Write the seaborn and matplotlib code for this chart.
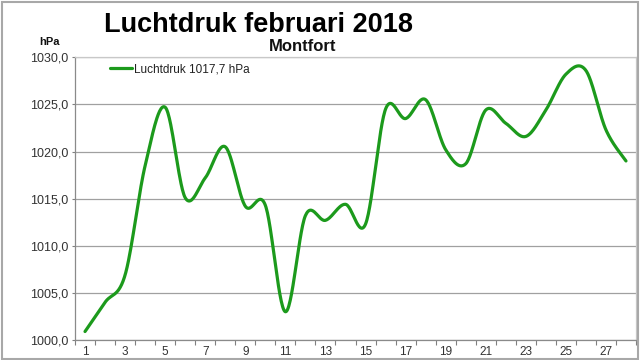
import numpy as np
import pandas as pd
import matplotlib
matplotlib.use("Agg")
import matplotlib.pyplot as plt
from matplotlib.patches import Rectangle
from matplotlib.ticker import FixedLocator, FuncFormatter
import seaborn as sns

# ---- data ----
days = list(range(1, 29))
pressure = [1000.9, 1004.0, 1006.9, 1018.5, 1024.7, 1015.1, 1017.2, 1020.5,
            1014.2, 1014.3, 1003.0, 1013.2, 1012.7, 1014.4, 1012.3, 1024.5,
            1023.5, 1025.5, 1020.2, 1018.7, 1024.4, 1023.0, 1021.6, 1024.4,
            1028.2, 1028.6, 1022.3, 1019.0]
series_label = "Luchtdruk 1017,7 hPa"
title = "Luchtdruk februari 2018"
subtitle = "Montfort"
y_unit = "hPa"
y_ticks = [1000, 1005, 1010, 1015, 1020, 1025, 1030]
x_ticklabels = list(range(1, 28, 2))


def smooth(xs, ys, n=30):
    """Excel-style smoothed line (Catmull-Rom Bezier)."""
    P = np.column_stack([xs, ys]).astype(float)
    ext = np.vstack([P[0], P, P[-1]])
    out = []
    t = np.linspace(0, 1, n)[:, None]
    for i in range(len(P) - 1):
        p0, p1, p2, p3 = ext[i], ext[i + 1], ext[i + 2], ext[i + 3]
        c1 = p1 + (p2 - p0) / 6.0
        c2 = p2 - (p3 - p1) / 6.0
        seg = ((1 - t) ** 3) * p1 + 3 * ((1 - t) ** 2) * t * c1 + 3 * (1 - t) * t ** 2 * c2 + t ** 3 * p2
        out.append(seg if i == 0 else seg[1:])
    out = np.vstack(out)
    return out[:, 0], out[:, 1]


sx, sy = smooth(days, pressure)
df = pd.DataFrame({"dag": sx, "druk": sy})

sns.set_theme(style="white")
plt.rcParams["font.family"] = ["Liberation Sans", "DejaVu Sans"]

fig = plt.figure(figsize=(6.4, 3.6), dpi=100)
ax = fig.add_axes([75 / 640, 1 - 340 / 360, (636 - 75) / 640, (340 - 57.3) / 360])

sns.lineplot(data=df, x="dag", y="druk", sort=False, ax=ax, color="#1c9a1c",
             linewidth=2.3, label=series_label, estimator=None)

ax.set_xlim(0.5, 28.5)
ax.set_ylim(1000, 1030)
ax.set_xlabel("")
ax.set_ylabel("")

ax.yaxis.set_major_locator(FixedLocator(y_ticks))
ax.yaxis.set_major_formatter(FuncFormatter(lambda v, p: f"{v:.1f}".replace(".", ",")))
ax.xaxis.set_major_locator(FixedLocator(x_ticklabels))
ax.xaxis.set_major_formatter(FuncFormatter(lambda v, p: f"{int(round(v))}"))
ax.xaxis.set_minor_locator(FixedLocator(np.arange(0.5, 29, 1.0)))

ax.grid(axis="y", color="#a0a0a0", linewidth=0.9)
ax.set_axisbelow(True)

ax.tick_params(axis="x", which="major", length=0, pad=4.5, labelsize=8.5, colors="#333333")
ax.tick_params(axis="x", which="minor", length=3.6, width=0.8, color="#808080", direction="out")
ax.tick_params(axis="y", which="major", length=2.5, width=0.8, color="#808080", pad=2.5,
               labelsize=9, labelcolor="#333333", direction="out")
ax.tick_params(bottom=True, left=True, which="both")

for side in ["left", "bottom"]:
    ax.spines[side].set_color("#8a8a8a")
    ax.spines[side].set_linewidth(0.9)
for side in ["top", "right"]:
    ax.spines[side].set_color("#c8c8c8")
    ax.spines[side].set_linewidth(0.9)

leg = ax.legend(loc="center left", bbox_to_anchor=((110 - 75) / 561, (340 - 69) / 282.7),
                frameon=False, fontsize=8.5, handlelength=1.9, handletextpad=0.1,
                borderpad=0, borderaxespad=0)
for t in leg.get_texts():
    t.set_color("#222222")

fig.text(258 / 640, 1 - 31.7 / 360, title, ha="center", va="baseline",
         fontsize=19.5, fontweight="bold", color="black")
fig.text(303 / 640, 1 - 50.7 / 360, subtitle, ha="center", va="baseline",
         fontsize=12, fontweight="bold", color="#111111")
fig.text(50 / 640, 1 - 45 / 360, y_unit, ha="center", va="baseline",
         fontsize=8, fontweight="bold", color="#111111")

fig.patches.append(Rectangle((2 / 640, 1.5 / 360), 636 / 640, 356.5 / 360,
                             transform=fig.transFigure, fill=False,
                             edgecolor="#a8a8a8", linewidth=1.5))

fig.savefig("out.png", dpi=100, facecolor="white")
